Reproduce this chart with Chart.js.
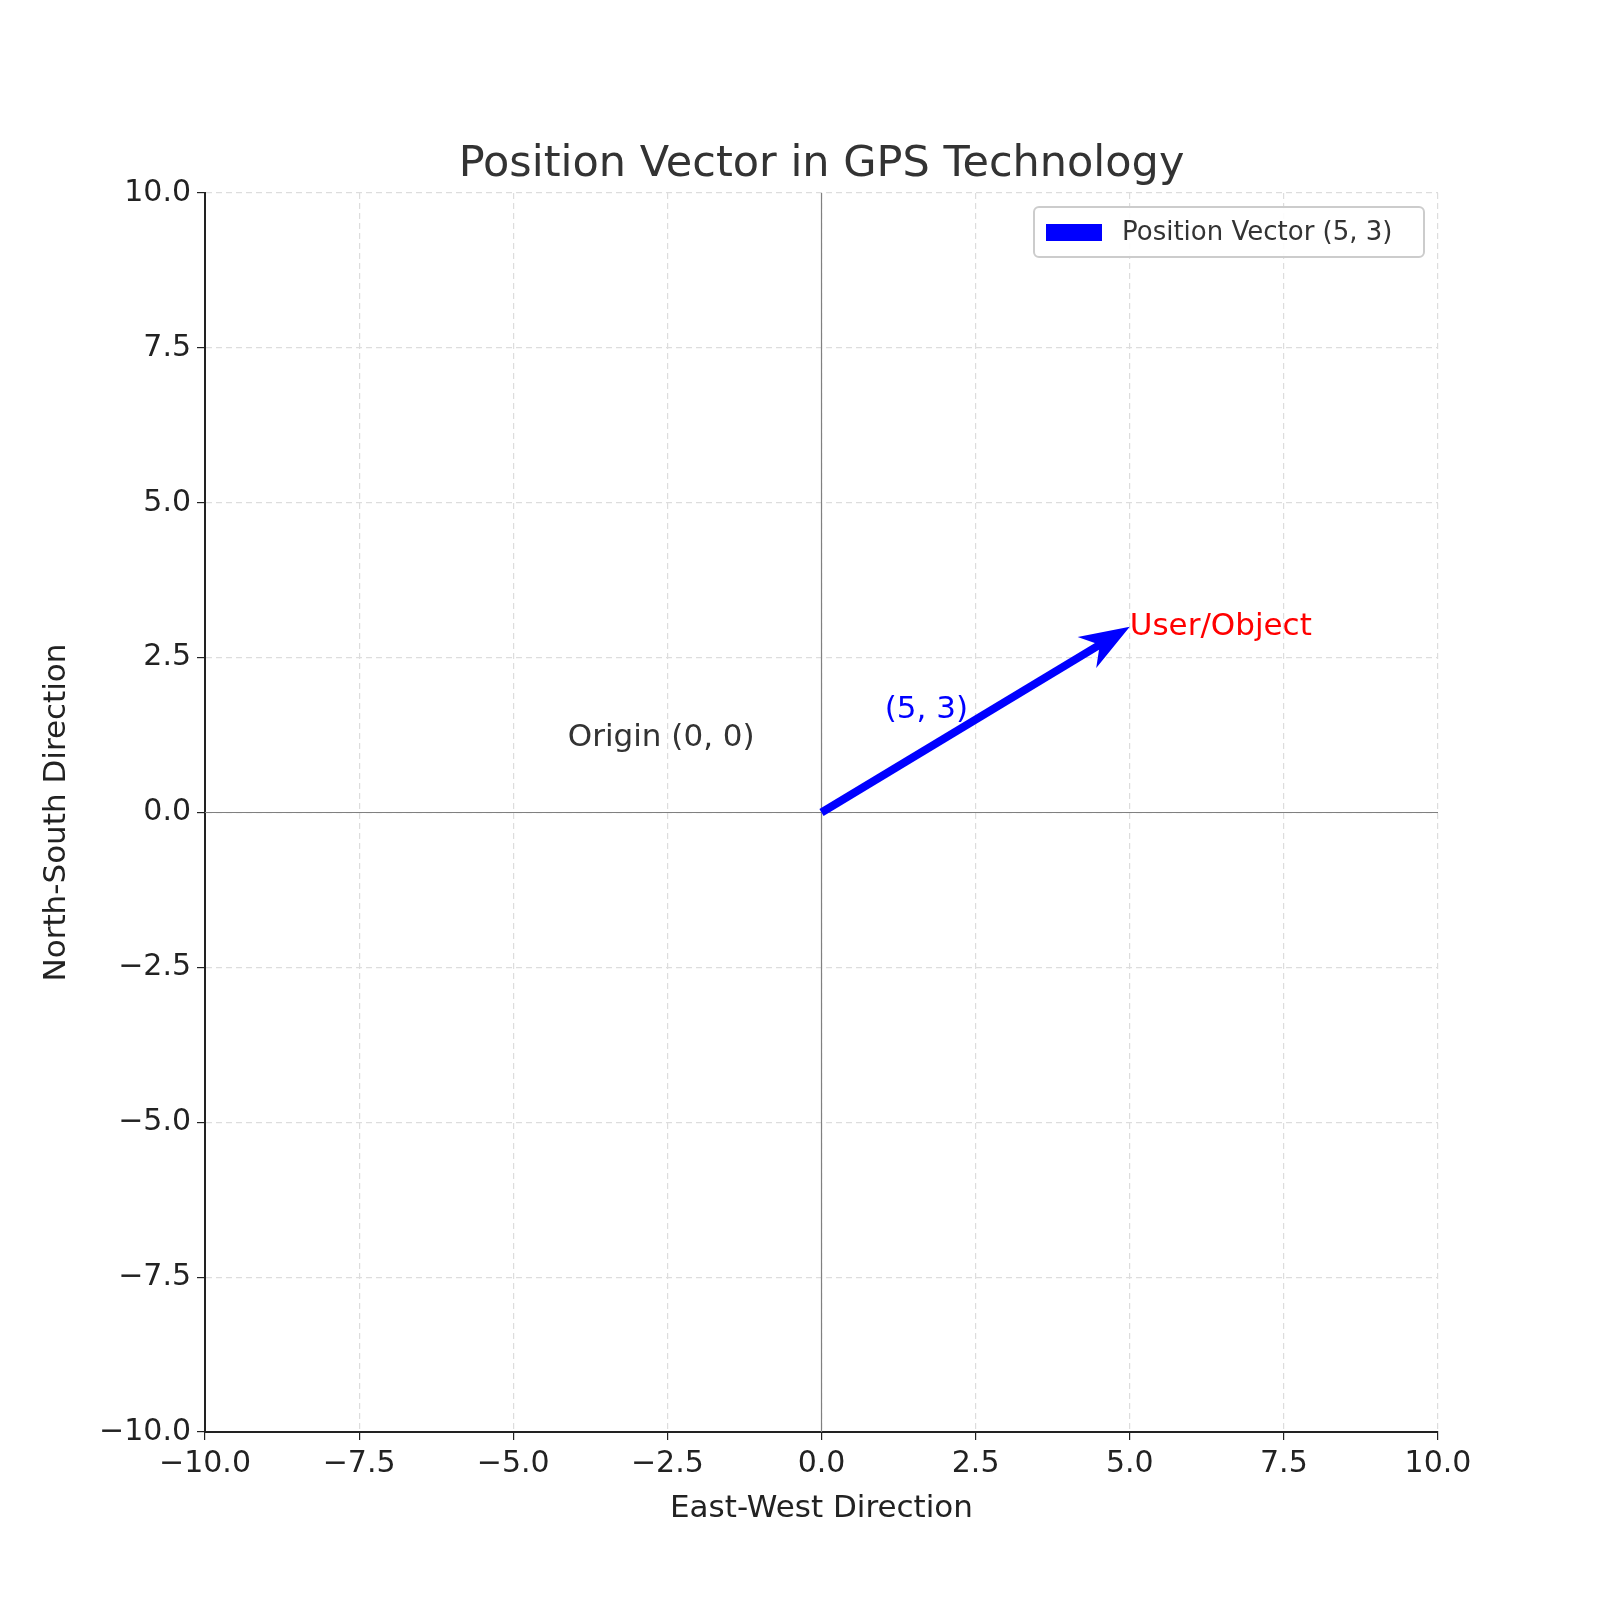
<!DOCTYPE html>
<html><head><meta charset="utf-8">
<script src="https://cdn.jsdelivr.net/npm/chart.js@4/dist/chart.umd.min.js"></script>
<style>html,body{margin:0;background:#fff}#w{width:1600px;height:1600px}</style>
</head><body><div id="w"><canvas id="c"></canvas></div>
<script>
const vectorStart = [0, 0];
const vectorEnd = [5, 3];
const seriesLabel = 'Position Vector (5, 3)';
const tickValues = [-10, -7.5, -5, -2.5, 0, 2.5, 5, 7.5, 10];
const chartTitle = 'Position Vector in GPS Technology';
const xTitle = 'East-West Direction';
const yTitle = 'North-South Direction';
const annotations = [
  {x: 5, y: 3, text: 'User/Object', color: '#ff0000', align: 'left'},
  {x: 1.7, y: 1.65, text: '(5, 3)', color: '#0000ff', align: 'center'},
  {x: -2.6, y: 1.2, text: 'Origin (0, 0)', color: '#333333', align: 'center'}
];
const F = 'DejaVu Sans';
const fmt = v => (v < 0 ? '\u2212' : '') + Math.abs(v).toFixed(1);

const deco = {
  id: 'deco',
  beforeDatasetsDraw(ch) {
    const {ctx, scales: {x, y}, chartArea: a} = ch;
    ctx.save();
    ctx.strokeStyle = '#808080'; ctx.lineWidth = 1.2;
    ctx.beginPath();
    ctx.moveTo(a.left, y.getPixelForValue(0)); ctx.lineTo(a.right, y.getPixelForValue(0));
    ctx.moveTo(x.getPixelForValue(0), a.top); ctx.lineTo(x.getPixelForValue(0), a.bottom);
    ctx.stroke(); ctx.restore();
  },
  afterDatasetsDraw(ch) {
    const {ctx, scales: {x, y}, chartArea: a} = ch;
    ctx.save();
    const x0 = x.getPixelForValue(vectorStart[0]), y0 = y.getPixelForValue(vectorStart[1]);
    const x1 = x.getPixelForValue(vectorEnd[0]), y1 = y.getPixelForValue(vectorEnd[1]);
    const ang = Math.atan2(y1 - y0, x1 - x0);
    const L = 50, W = 18;
    const bx = x1 - L * Math.cos(ang), by = y1 - L * Math.sin(ang);
    ctx.fillStyle = '#0000ff';
    ctx.beginPath();
    ctx.moveTo(x1, y1);
    ctx.lineTo(bx + W * Math.sin(ang), by - W * Math.cos(ang));
    ctx.lineTo(bx + 0.3*L*Math.cos(ang), by + 0.3*L*Math.sin(ang));
    ctx.lineTo(bx - W * Math.sin(ang), by + W * Math.cos(ang));
    ctx.closePath(); ctx.fill();
    ctx.font = '31px "' + F + '"'; ctx.textBaseline = 'middle';
    for (const t of annotations) {
      ctx.fillStyle = t.color; ctx.textAlign = t.align;
      ctx.fillText(t.text, x.getPixelForValue(t.x), y.getPixelForValue(t.y));
    }
    ctx.fillStyle = '#333'; ctx.textAlign = 'center'; ctx.textBaseline = 'alphabetic';
    ctx.font = '43px "' + F + '"';
    ctx.fillText(chartTitle, (a.left + a.right) / 2, 176);
    const lw = 390, lh = 50, lx = a.right - 14 - lw, ly = a.top + 14;
    ctx.fillStyle = 'rgba(255,255,255,0.9)'; ctx.strokeStyle = '#cccccc'; ctx.lineWidth = 2;
    ctx.beginPath(); ctx.roundRect(lx, ly, lw, lh, 5); ctx.fill(); ctx.stroke();
    ctx.fillStyle = '#0000ff'; ctx.fillRect(lx + 12, ly + 17, 56, 17);
    ctx.fillStyle = '#333'; ctx.font = '26px "' + F + '"'; ctx.textAlign = 'left'; ctx.textBaseline = 'middle';
    ctx.fillText(seriesLabel, lx + 88, ly + lh / 2 + 1);
    ctx.restore();
  }
};

const tickOpts = {color: '#222', font: {family: F, size: 30}, padding: 6};
const gridOpts = {color: '#dddddd', lineWidth: 1.2, tickColor: '#222', tickLength: 8, drawTicks: true};
new Chart(document.getElementById('c'), {
  type: 'scatter',
  data: {datasets: [{
    label: seriesLabel,
    data: [{x: vectorStart[0], y: vectorStart[1]}, {x: vectorEnd[0] - 0.45, y: vectorEnd[1] - 0.27}],
    showLine: true, borderColor: '#0000ff', borderWidth: 8, pointRadius: 0, borderCapStyle: 'butt'
  }]},
  options: {
    responsive: true, maintainAspectRatio: false, animation: false,
    layout: {padding: {top: 193, right: 162, bottom: 68, left: 34}},
    plugins: {legend: {display: false}, tooltip: {enabled: false}},
    scales: {
      x: {type: 'linear', min: -10, max: 10,
        afterBuildTicks: s => { s.ticks = tickValues.map(v => ({value: v})); },
        ticks: {...tickOpts, callback: v => fmt(v), maxRotation: 0, autoSkip: false},
        grid: {...gridOpts}, border: {color: '#222', width: 2, dash: [6, 4]},
        title: {display: true, text: xTitle, color: '#222', font: {family: F, size: 31}, padding: {top: 4}},
        afterFit: s => { s.height = 100; }
      },
      y: {type: 'linear', min: -10, max: 10,
        afterBuildTicks: s => { s.ticks = tickValues.map(v => ({value: v})); },
        ticks: {...tickOpts, callback: v => fmt(v), autoSkip: false},
        grid: {...gridOpts}, border: {color: '#222', width: 2, dash: [6, 4]},
        title: {display: true, text: yTitle, color: '#222', font: {family: F, size: 31}, padding: {bottom: 20}},
        afterFit: s => { s.width = 171; }
      }
    }
  },
  plugins: [deco]
});
</script></body></html>
